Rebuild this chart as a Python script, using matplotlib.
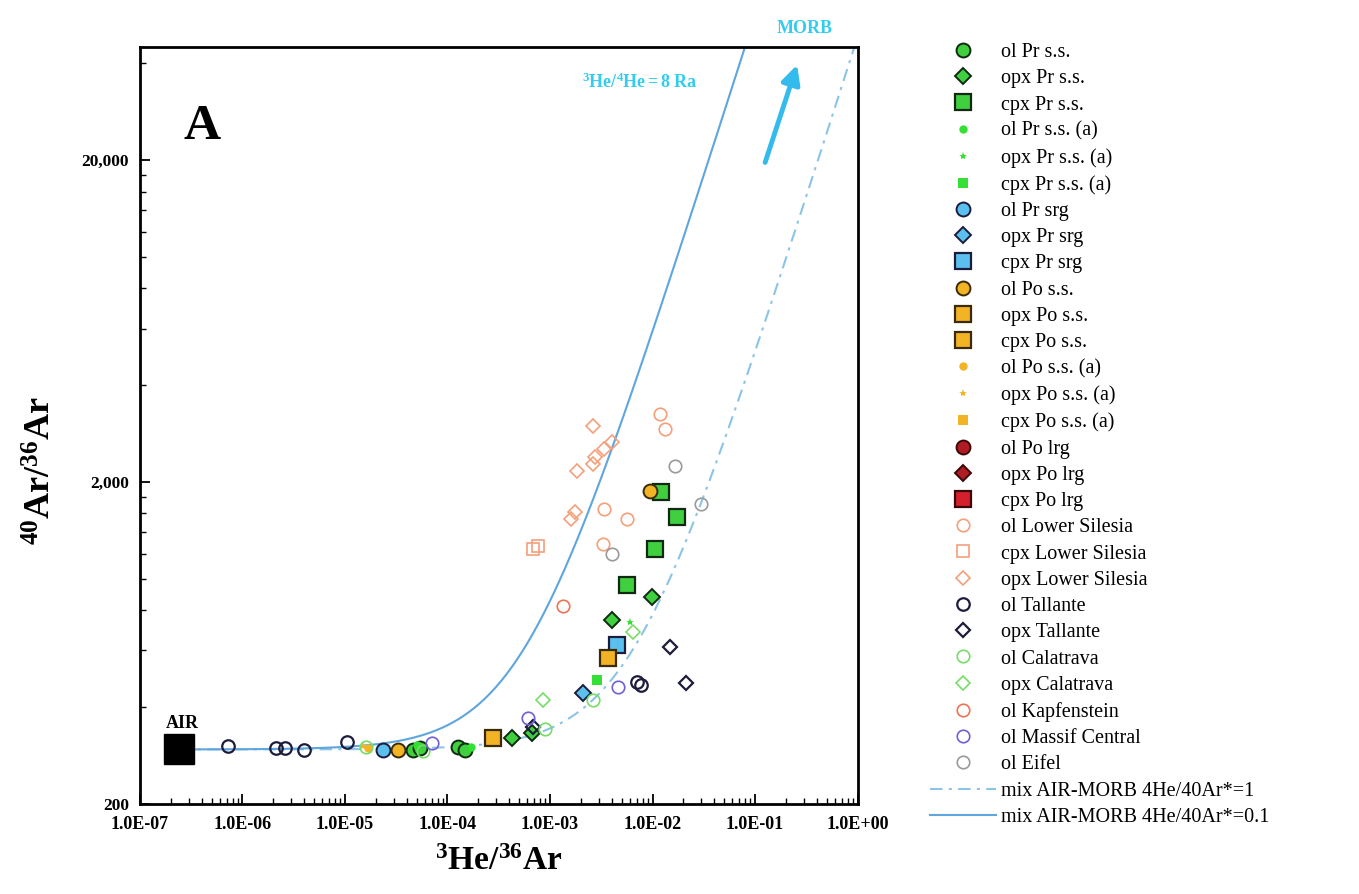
import numpy as np
import matplotlib.pyplot as plt
from matplotlib.ticker import FixedLocator, FixedFormatter, LogLocator, NullFormatter

plt.rcParams['font.family'] = ['Liberation Serif', 'DejaVu Serif']
plt.rcParams['mathtext.fontset'] = 'custom'
plt.rcParams['mathtext.rm'] = 'Liberation Serif'
plt.rcParams['mathtext.bf'] = 'Liberation Serif:bold'
plt.rcParams['mathtext.it'] = 'Liberation Serif:italic'

# air end-member
air_x = [2.4e-7]
air_y = [295.5]

# mixing slopes 40Ar*/3He
mix_k_01 = 5.6e5   # 4He/40Ar* = 0.1
mix_k_1 = 4.8e4    # 4He/40Ar* = 1

# samples (3He/36Ar, 40Ar/36Ar)
ol_pr_ss_x = [4.6e-5, 5.4e-5, 1.26e-4, 1.47e-4]
ol_pr_ss_y = [294, 298, 301, 294]
opx_pr_ss_x = [4.3e-4, 6.6e-4, 4.07e-3, 9.8e-3]
opx_pr_ss_y = [321, 333, 748, 877]
cpx_pr_ss_x = [5.6e-3, 1.05e-2, 1.22e-2, 1.75e-2]
cpx_pr_ss_y = [961, 1236, 1862, 1556]
ol_pr_ssa_x = [5.0e-5, 1.7e-4]
ol_pr_ssa_y = [306, 300]
opx_pr_ssa_x = [5.97e-3]
opx_pr_ssa_y = [733]
cpx_pr_ssa_x = [2.9e-3]
cpx_pr_ssa_y = [486]
ol_pr_srg_x = [2.33e-5]
ol_pr_srg_y = [294]
opx_pr_srg_x = [2.08e-3]
opx_pr_srg_y = [443]
cpx_pr_srg_x = [4.46e-3]
cpx_pr_srg_y = [625]
ol_po_ss_x = [3.27e-5, 9.35e-3]
ol_po_ss_y = [294, 1875]
opx_po_ss_x = [2.76e-4]
opx_po_ss_y = [321]
cpx_po_ss_x = [3.64e-3]
cpx_po_ss_y = [570]
ol_po_ssa_x = [1.67e-5]
ol_po_ssa_y = [299]
opx_po_ssa_x = [1.5e-5]
opx_po_ssa_y = [302]
cpx_po_ssa_x = []
cpx_po_ssa_y = []
ol_po_lrg_x, ol_po_lrg_y = [], []
opx_po_lrg_x, opx_po_lrg_y = [], []
cpx_po_lrg_x, cpx_po_lrg_y = [], []
ol_ls_x = [1.17e-2, 1.31e-2, 3.4e-3, 5.6e-3, 3.26e-3]
ol_ls_y = [3260, 2924, 1649, 1535, 1282]
cpx_ls_x = [6.8e-4, 7.6e-4]
cpx_ls_y = [1236, 1264]
opx_ls_x = [2.6e-3, 4.07e-3, 3.4e-3, 2.72e-3, 2.6e-3, 1.82e-3, 1.74e-3, 1.62e-3]
opx_ls_y = [2986, 2667, 2535, 2393, 2275, 2163, 1615, 1535]
ol_tal_x = [7.2e-7, 2.12e-6, 2.59e-6, 3.96e-6, 1.04e-5, 7.1e-3, 7.8e-3]
ol_tal_y = [303, 299, 299, 294, 312, 480, 470]
opx_tal_x = [6.8e-4, 1.47e-2, 2.14e-2]
opx_tal_y = [348, 617, 476]
ol_cal_x = [1.6e-5, 8.85e-4, 2.6e-3, 5.8e-5]
ol_cal_y = [300, 343, 422, 292]
opx_cal_x = [8.5e-4, 6.4e-3]
opx_cal_y = [422, 687]
ol_kap_x = [1.33e-3]
ol_kap_y = [822]
ol_mc_x = [7.0e-5, 6.05e-4, 4.56e-3]
ol_mc_y = [310, 371, 462]
ol_eif_x = [1.64e-2, 3.0e-2, 4.07e-3]
ol_eif_y = [2244, 1706, 1194]

green = '#3fcf3f'
bgreen = '#33e033'
blue = '#5cc0ee'
gold = '#f2b324'
red = '#d3202c'
salmon = '#f4a07a'
navy = '#1c1c3c'
lgreen = '#77dd66'
dk = '#0f2a10'

series = [
    ('ol Pr s.s.', ol_pr_ss_x, ol_pr_ss_y, dict(marker='o', ms=10, mfc=green, mec=dk, mew=1.4)),
    ('opx Pr s.s.', opx_pr_ss_x, opx_pr_ss_y, dict(marker='D', ms=8, mfc=green, mec=dk, mew=1.4)),
    ('cpx Pr s.s.', cpx_pr_ss_x, cpx_pr_ss_y, dict(marker='s', ms=12, mfc=green, mec=dk, mew=1.6)),
    ('ol Pr s.s. (a)', ol_pr_ssa_x, ol_pr_ssa_y, dict(marker='o', ms=6, mfc=bgreen, mec=bgreen, mew=0)),
    ('opx Pr s.s. (a)', opx_pr_ssa_x, opx_pr_ssa_y, dict(marker='*', ms=6, mfc=bgreen, mec=bgreen, mew=0)),
    ('cpx Pr s.s. (a)', cpx_pr_ssa_x, cpx_pr_ssa_y, dict(marker='s', ms=7, mfc=bgreen, mec=bgreen, mew=0)),
    ('ol Pr srg', ol_pr_srg_x, ol_pr_srg_y, dict(marker='o', ms=10, mfc=blue, mec=navy, mew=1.4)),
    ('opx Pr srg', opx_pr_srg_x, opx_pr_srg_y, dict(marker='D', ms=8, mfc=blue, mec=navy, mew=1.4)),
    ('cpx Pr srg', cpx_pr_srg_x, cpx_pr_srg_y, dict(marker='s', ms=12, mfc=blue, mec=navy, mew=1.6)),
    ('ol Po s.s.', ol_po_ss_x, ol_po_ss_y, dict(marker='o', ms=10, mfc=gold, mec='#3a2a08', mew=1.4)),
    ('opx Po s.s.', opx_po_ss_x, opx_po_ss_y, dict(marker='s', ms=12, mfc=gold, mec='#3a2a08', mew=1.6)),
    ('cpx Po s.s.', cpx_po_ss_x, cpx_po_ss_y, dict(marker='s', ms=12, mfc=gold, mec='#3a2a08', mew=1.6)),
    ('ol Po s.s. (a)', ol_po_ssa_x, ol_po_ssa_y, dict(marker='o', ms=6, mfc=gold, mec=gold, mew=0)),
    ('opx Po s.s. (a)', opx_po_ssa_x, opx_po_ssa_y, dict(marker='*', ms=6, mfc=gold, mec=gold, mew=0)),
    ('cpx Po s.s. (a)', cpx_po_ssa_x, cpx_po_ssa_y, dict(marker='s', ms=7, mfc=gold, mec=gold, mew=0)),
    ('ol Po lrg', ol_po_lrg_x, ol_po_lrg_y, dict(marker='o', ms=10, mfc='#b01c24', mec='#3a0808', mew=1.4)),
    ('opx Po lrg', opx_po_lrg_x, opx_po_lrg_y, dict(marker='D', ms=8, mfc='#b01c24', mec='#3a0808', mew=1.4)),
    ('cpx Po lrg', cpx_po_lrg_x, cpx_po_lrg_y, dict(marker='s', ms=12, mfc=red, mec='#3a0808', mew=1.6)),
    ('ol Lower Silesia', ol_ls_x, ol_ls_y, dict(marker='o', ms=9, mfc='none', mec=salmon, mew=1.2)),
    ('cpx Lower Silesia', cpx_ls_x, cpx_ls_y, dict(marker='s', ms=9, mfc='none', mec=salmon, mew=1.2)),
    ('opx Lower Silesia', opx_ls_x, opx_ls_y, dict(marker='D', ms=7, mfc='none', mec=salmon, mew=1.2)),
    ('ol Tallante', ol_tal_x, ol_tal_y, dict(marker='o', ms=9, mfc='none', mec=navy, mew=1.6)),
    ('opx Tallante', opx_tal_x, opx_tal_y, dict(marker='D', ms=7, mfc='none', mec=navy, mew=1.6)),
    ('ol Calatrava', ol_cal_x, ol_cal_y, dict(marker='o', ms=9, mfc='none', mec=lgreen, mew=1.2)),
    ('opx Calatrava', opx_cal_x, opx_cal_y, dict(marker='D', ms=7, mfc='none', mec=lgreen, mew=1.2)),
    ('ol Kapfenstein', ol_kap_x, ol_kap_y, dict(marker='o', ms=9, mfc='none', mec='#f07252', mew=1.2)),
    ('ol Massif Central', ol_mc_x, ol_mc_y, dict(marker='o', ms=9, mfc='none', mec='#6f60d8', mew=1.2)),
    ('ol Eifel', ol_eif_x, ol_eif_y, dict(marker='o', ms=9, mfc='none', mec='#9a9a9a', mew=1.2)),
]

fig = plt.figure(figsize=(13.59, 8.94), dpi=100)
ax = fig.add_axes([0.103, 0.1007, 0.528, 0.8467])

# mixing curves AIR - MORB
xm = np.logspace(np.log10(air_x[0]), 0.3, 400)
l1, = ax.plot(xm, air_y[0] + mix_k_1 * (xm - air_x[0]), color='#8cc4e8', lw=1.5,
              ls=(0, (6, 3, 1.5, 3)), label='mix AIR-MORB 4He/40Ar*=1', zorder=1)
l2, = ax.plot(xm, air_y[0] + mix_k_01 * (xm - air_x[0]), color='#5fa6de', lw=1.5,
              label='mix AIR-MORB 4He/40Ar*=0.1', zorder=1)

handles = []
for lab, xs, ys, st in series:
    h, = ax.plot(xs, ys, ls='none', label=lab, zorder=3, **st)
    handles.append(h)
handles += [l1, l2]

ax.plot(air_x, air_y, marker='s', ms=21, color='black', ls='none', zorder=4)
ax.text(air_x[0] * 0.75, 335, 'AIR', fontsize=13, fontweight='bold', ha='left', va='bottom')

ax.set_xscale('log')
ax.set_yscale('log')
ax.set_xlim(1e-7, 1)
ax.set_ylim(200, 45000)

xt = [1e-7, 1e-6, 1e-5, 1e-4, 1e-3, 1e-2, 1e-1, 1e0]
xt_labels = ['1.0E-07', '1.0E-06', '1.0E-05', '1.0E-04', '1.0E-03', '1.0E-02', '1.0E-01', '1.0E+00']
ax.xaxis.set_major_locator(FixedLocator(xt))
ax.xaxis.set_major_formatter(FixedFormatter(xt_labels))
ax.xaxis.set_minor_locator(LogLocator(base=10, subs=np.arange(2, 10)))
ax.xaxis.set_minor_formatter(NullFormatter())

yt = [200, 2000, 20000]
yt_labels = ['200', '2,000', '20,000']
ax.yaxis.set_major_locator(FixedLocator(yt))
ax.yaxis.set_major_formatter(FixedFormatter(yt_labels))
ymin = list(range(400, 2000, 200)) + list(range(4000, 20000, 2000)) + [40000]
ax.yaxis.set_minor_locator(FixedLocator(ymin))
ax.yaxis.set_minor_formatter(NullFormatter())

ax.tick_params(which='both', direction='in', top=False, right=False)
ax.tick_params(which='major', length=7, width=1.3)
ax.tick_params(axis='x', which='major', pad=9, labelsize=13)
ax.tick_params(axis='y', which='major', pad=8, labelsize=12.5)
ax.tick_params(which='minor', length=4, width=1.0)
for lab in ax.get_xticklabels() + ax.get_yticklabels():
    lab.set_fontweight('bold')
for sp in ax.spines.values():
    sp.set_linewidth(2)

ax.set_xlabel(r'$\mathbf{^{3}He/^{36}Ar}$', fontsize=24, labelpad=9)
ax.set_ylabel(r'$\mathbf{^{40}Ar/^{36}Ar}$', fontsize=26)
ax.yaxis.set_label_coords(-0.113, 0.44)

ax.text(0.06, 0.895, 'A', transform=ax.transAxes, fontsize=37, fontweight='bold', va='center')
ax.text(0.926, 1.025, 'MORB', transform=ax.transAxes, fontsize=13, fontweight='bold',
        color='#33ccee', ha='center', va='center', clip_on=False)
ax.text(0.696, 0.954, r'$\mathbf{^{3}He/^{4}He=8\ Ra}$', transform=ax.transAxes, fontsize=13,
        color='#33ccee', ha='center', va='center')
ax.annotate('', xy=(0.917, 0.98), xytext=(0.870, 0.844), xycoords='axes fraction',
            arrowprops=dict(arrowstyle='-|>', color='#33bbee', lw=3.5, mutation_scale=28))

fig.legend(handles=handles, labels=[h.get_label() for h in handles], loc='upper left',
           bbox_to_anchor=(0.684, 0.952), frameon=False, fontsize=14.5, handlelength=3.3,
           handletextpad=0.25, labelspacing=0.355, borderpad=0, borderaxespad=0, numpoints=1)

fig.savefig('out.png', dpi=100)
